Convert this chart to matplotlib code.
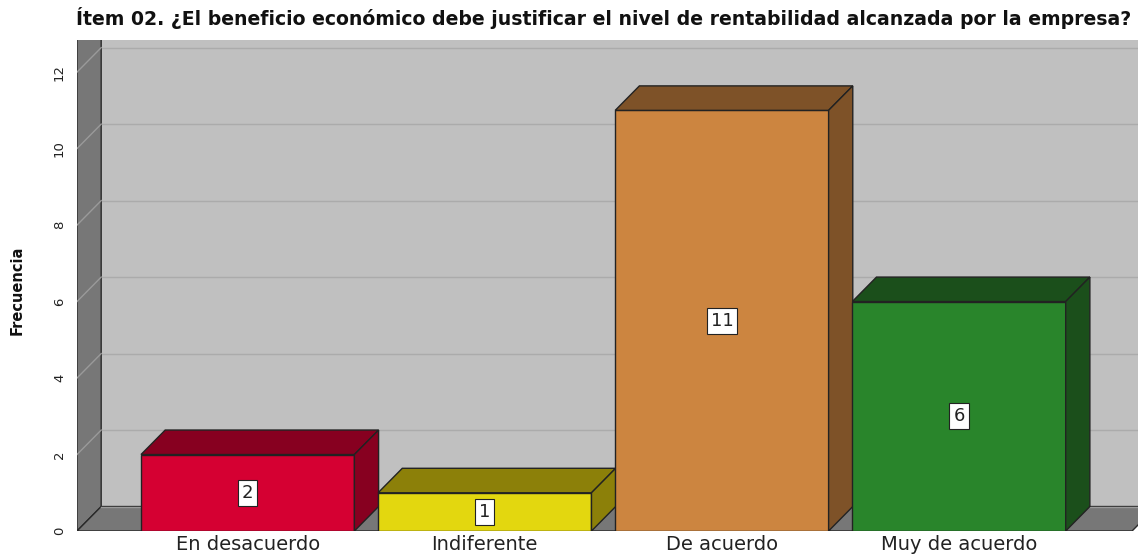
import matplotlib
matplotlib.use("Agg")
import matplotlib.pyplot as plt
from matplotlib.patches import Polygon

plt.rcParams['font.family'] = ['DejaVu Sans']

# data
categories = ["En desacuerdo", "Indiferente", "De acuerdo", "Muy de acuerdo"]
frecuencia = [2, 1, 11, 6]
front_colors = ["#D50032", "#E3D70F", "#CC8540", "#29852B"]
dark_colors = ["#870020", "#8C8009", "#7E5228", "#1B4F1B"]
title = "Ítem 02. ¿El beneficio económico debe justificar el nivel de rentabilidad alcanzada por la empresa?"

# geometry (data units)
width = 0.9
dx, dy = 0.102, 0.64
xmin, xmax = -0.72, 3.755
ymax = 12.84
floor_end = 3.73

fig = plt.figure(figsize=(11.38, 5.59), dpi=100)
ax = fig.add_axes([77 / 1138, 28 / 559, 1 - 77 / 1138, (531 - 40) / 559])
ax.set_xlim(xmin, xmax)
ax.set_ylim(0, ymax)
for s in ax.spines.values():
    s.set_visible(False)

def poly(pts, fc, ec="#222222", lw=1.0, z=1):
    p = Polygon(pts, closed=True, facecolor=fc, edgecolor=ec, linewidth=lw, zorder=z)
    ax.add_patch(p)
    return p

# back plane
poly([(xmin + dx, dy), (xmax + 1, dy), (xmax + 1, ymax + 1), (xmin + dx, ymax + 1)],
     "#C0C0C0", ec="none", z=0)
# left wall and floor
poly([(xmin, 0), (xmin + dx, dy), (xmin + dx, ymax + 1), (xmin, ymax + 1)],
     "#777777", ec="#2a2a2a", z=1)
poly([(xmin, 0), (xmin + dx, dy), (floor_end + dx, dy), (floor_end, 0)],
     "#777777", ec="#2a2a2a", z=1)

# grid lines
for v in range(2, 13, 2):
    ax.plot([xmin + dx, xmax + 1], [v + dy, v + dy], color="#ABABAB", lw=1, zorder=0.5)
    ax.plot([xmin, xmin + dx], [v, v + dy], color="#9A9A9A", lw=1, zorder=1.5)
ax.plot([xmin + dx, floor_end + dx], [dy, dy], color="#9A9A9A", lw=1, zorder=1.5)

# bars
for i, (v, fc, dc) in enumerate(zip(frecuencia, front_colors, dark_colors)):
    x0, x1 = i - width / 2, i + width / 2
    poly([(x0, 0), (x1, 0), (x1, v), (x0, v)], fc, z=3)
    poly([(x0, v), (x1, v), (x1 + dx, v + dy), (x0 + dx, v + dy)], dc, z=3)
    poly([(x1, 0), (x1 + dx, dy), (x1 + dx, v + dy), (x1, v)], dc, z=3)
    ax.text(i, v / 2, str(v), ha="center", va="center", fontsize=13, color="#222222",
            zorder=5, bbox=dict(boxstyle="square,pad=0.22", fc="white", ec="#222222", lw=0.8))

ax.set_xticks(range(len(categories)))
ax.set_xticklabels(categories, fontsize=14, color="#222222")
ax.set_yticks(range(0, 13, 2))
ax.set_yticklabels([str(t) for t in range(0, 13, 2)], rotation=90, va="center",
                   fontsize=9.5, color="#222222")
ax.tick_params(axis="both", length=0)
ax.tick_params(axis="x", pad=3)
ax.tick_params(axis="y", pad=8)

fig.text(76 / 1138, 1 - 18 / 559, title, ha="left", va="center", fontsize=13.6,
         fontweight="bold", color="#111111")
fig.text(17 / 1138, 1 - 290 / 559, "Frecuencia", rotation=90, ha="center", va="center",
         fontsize=10.5, fontweight="bold", color="#111111")

fig.savefig("out.png", dpi=100)
